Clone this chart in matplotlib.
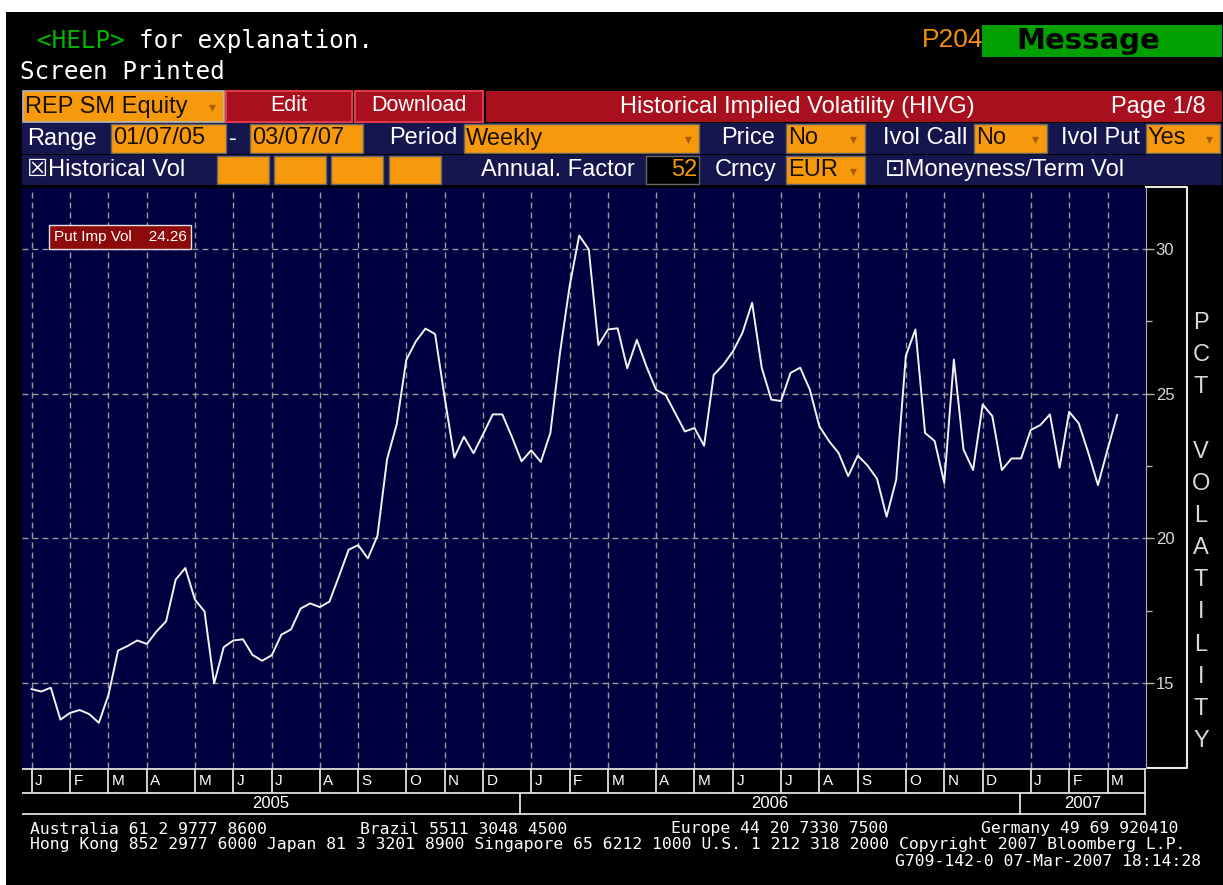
import numpy as np
import pandas as pd
import matplotlib.pyplot as plt
from matplotlib.patches import Rectangle

plt.rcParams['font.family'] = ['Liberation Sans', 'DejaVu Sans']

# weekly put implied volatility, REP SM Equity, 07-Jan-2005 .. 07-Mar-2007
put_imp_vol = [
    14.80, 14.72, 14.85, 13.75, 13.98, 14.08, 13.94, 13.64, 14.60, 16.13,
    16.29, 16.48, 16.36, 16.79, 17.14, 18.58, 18.98, 17.89, 17.48, 15.00,
    16.25, 16.48, 16.52, 15.98, 15.78, 15.97, 16.68, 16.86, 17.58, 17.76,
    17.63, 17.82, 18.70, 19.61, 19.77, 19.31, 20.09, 22.73, 23.93, 26.16,
    26.80, 27.24, 27.05, 24.85, 22.79, 23.51, 22.94, 23.60, 24.28, 24.28,
    23.50, 22.66, 23.04, 22.64, 23.64, 26.40, 28.70, 30.45, 29.97, 26.67,
    27.21, 27.25, 25.87, 26.85, 25.93, 25.13, 24.95, 24.32, 23.69, 23.81,
    23.20, 25.64, 25.99, 26.45, 27.10, 28.13, 25.89, 24.79, 24.74, 25.71,
    25.89, 25.14, 23.87, 23.36, 22.95, 22.15, 22.86, 22.52, 22.06, 20.75,
    22.03, 26.30, 27.21, 23.64, 23.36, 21.92, 26.17, 23.07, 22.36, 24.62,
    24.22, 22.36, 22.76, 22.76, 23.74, 23.91, 24.28, 22.44, 24.37, 23.97,
    22.95, 21.84, 23.07, 24.26,
]
dates = list(pd.date_range("2005-01-07", "2007-03-02", freq="W-FRI")) + [pd.Timestamp("2007-03-07")]
month_letters = "JFMAMJJASOND"
y_ticks = [15, 20, 25, 30]
y_minor = [17.5, 22.5, 27.5]

W, H = 1223, 885
NAVY = "#000040"
ROW = "#16164e"
ORANGE = "#f7990c"
RED = "#a8101e"
GRID = "#9a9a9a"

fig = plt.figure(figsize=(W / 100, H / 100), dpi=100, facecolor="white")
bg = fig.add_axes([0, 0, 1, 1])
bg.set_xlim(0, W)
bg.set_ylim(H, 0)
bg.axis("off")


def box(x0, y0, x1, y1, color, edge=None, lw=1.0, ax=bg):
    ax.add_patch(Rectangle((x0, y0), x1 - x0, y1 - y0, facecolor=color,
                           edgecolor=edge if edge else "none", lw=lw))


def label(x, y, s, color="white", size=17, ha="left", **kw):
    bg.text(x, y, s, color=color, fontsize=size, ha=ha, va="center", **kw)


def arrow(x, y):
    bg.text(x, y + 1, "\u25BE", color="#a85a00", fontsize=10, ha="center", va="center",
            family="DejaVu Sans")


def px_axes(x0, y0, x1, y1, **kw):
    return fig.add_axes([x0 / W, 1 - y1 / H, (x1 - x0) / W, (y1 - y0) / H], **kw)


# screen
box(6, 12, W, H, "black")

mono = "DejaVu Sans Mono"
label(37, 41, "<HELP>", color="#00b400", size=17.5, family=mono)
label(37 + 7 * 14.6, 41, "for explanation.", size=17.5, family=mono)
label(20, 72, "Screen Printed", size=17.5, family=mono)
label(922, 40, "P204", color="#f0900a", size=19)
box(982, 25, 1222, 57, "#00a000")
label(1088, 41, "Message", color="black", size=21, ha="center", family="DejaVu Sans",
      weight="bold")

# row 1
box(23, 91, 224, 122, ORANGE, edge="#b8b8b8", lw=1.2)
label(25, 106.5, "REP SM Equity", color="#1a1000")
arrow(212, 106.5)
box(226, 91, 352, 122, RED, edge="#e03848", lw=1.5)
label(289, 105.5, "Edit", ha="center", size=15.5)
box(355, 91, 483, 122, RED, edge="#e03848", lw=1.5)
label(419, 105.5, "Download", ha="center", size=15.5)
box(486, 91, 1222, 122, RED)
label(797, 106.5, "Historical Implied Volatility (HIVG)", ha="center")
label(1206, 106.5, "Page 1/8", ha="right")

# row 2
box(22, 123, 1222, 154, ROW)
r2 = 138.5
label(27, r2, "Range")
box(111, 124, 226, 153, ORANGE, edge="#666666")
label(113, r2, "01/07/05", color="#1a1000")
label(233, r2, "-", ha="center")
box(250, 124, 363, 153, ORANGE, edge="#666666")
label(252, r2, "03/07/07", color="#1a1000")
label(389, r2, "Period")
box(464, 124, 699, 153, ORANGE, edge="#666666")
label(466, r2, "Weekly", color="#1a1000")
arrow(688, r2)
label(721, r2, "Price")
box(786, 124, 865, 153, ORANGE, edge="#666666")
label(788, r2, "No", color="#1a1000")
arrow(853, r2)
label(883, r2, "Ivol Call")
box(974, 124, 1047, 153, ORANGE, edge="#666666")
label(976, r2, "No", color="#1a1000")
arrow(1035, r2)
label(1061, r2, "Ivol Put")
box(1146, 124, 1220, 153, ORANGE, edge="#666666")
label(1148, r2, "Yes", color="#1a1000")
arrow(1209, r2)

# row 3
box(22, 155, 1222, 185, ROW)
r3 = 170
label(27, r3, "\u2612Historical Vol")
for x0 in [217, 274, 331, 389]:
    box(x0, 156, x0 + 52, 184, ORANGE, edge="#666666")
label(481, r3, "Annual. Factor")
box(646, 156, 699, 184, "black", edge="#666666")
label(697, r3, "52", color=ORANGE, ha="right")
label(715, r3, "Crncy")
box(786, 156, 865, 184, ORANGE, edge="#666666")
label(788, r3, "EUR", color="#1a1000")
arrow(853, r3)
label(885, r3, "\u22A1Moneyness/Term Vol")

# right label column
bg.plot([1146, 1187, 1187, 1146], [187, 187, 768, 768], color="#e8e8e8", lw=1.5)
bg.text(1201, 532, "\n".join("PCT VOLATILITY"), color="#d8d8d8", fontsize=17,
        ha="center", va="center", linespacing=1.6, multialignment="center")

# footer
fs = 11.8
label(30, 829, "Australia 61 2 9777 8600", size=fs, family=mono)
label(360, 829, "Brazil 5511 3048 4500", size=fs, family=mono)
label(671, 829, "Europe 44 20 7330 7500", size=fs, family=mono)
label(981, 829, "Germany 49 69 920410", size=fs, family=mono)
label(30, 845, "Hong Kong 852 2977 6000 Japan 81 3 3201 8900 Singapore 65 6212 1000 "
      "U.S. 1 212 318 2000 Copyright 2007 Bloomberg L.P.", size=fs, family=mono)
label(1201, 861, "G709-142-0 07-Mar-2007 18:14:28", size=fs, family=mono, ha="right")

# month / year boundaries from the dates
idx = np.arange(len(dates))
month_starts = [i for i in idx if i == 0 or dates[i].month != dates[i - 1].month]
year_starts = [i for i in month_starts if dates[i].month == 1]
xmin, xmax = -1, 116

# main chart
ax = px_axes(22, 188, 1146, 768)
ax.set_facecolor(NAVY)
for i in month_starts:
    ax.axvline(i, color=GRID, lw=1, dashes=(4.3, 2.9), zorder=1)
for v in y_ticks:
    ax.axhline(v, color=GRID, lw=1, dashes=(4.3, 2.9), zorder=1)
ax.plot(idx, put_imp_vol, color="#f2f2f2", lw=1.4, zorder=3)
ax.set_xlim(xmin, xmax)
ax.set_ylim(12.08, 32.09)
ax.set_xticks([])
ax.yaxis.tick_right()
ax.set_yticks(y_ticks)
ax.set_yticks(y_minor, minor=True)
ax.set_yticklabels([str(v) for v in y_ticks])
ax.tick_params(axis="y", which="major", length=6, width=1, color="#b0b0b0",
               labelcolor="#d8d8d8", labelsize=12, pad=1)
ax.tick_params(axis="y", which="minor", length=4, width=1, color="#b0b0b0")
for side in ["top", "left", "bottom"]:
    ax.spines[side].set_visible(False)
ax.spines["right"].set_color("#b0b0b0")
ax.text(0.0285, 0.9155, f"Put Imp Vol    {put_imp_vol[-1]:.2f}", transform=ax.transAxes,
        color="white", fontsize=11, ha="left", va="center", zorder=5,
        bbox=dict(boxstyle="square,pad=0.3", facecolor="#8c0a0a", edgecolor="#e0e0e0", lw=1))

# date axis: month row and year row
dax = px_axes(22, 768, 1146, 815)
dax.set_facecolor("black")
dax.set_xlim(xmin, xmax)
dax.set_ylim(0, 47)
dax.set_xticks([])
dax.set_yticks([])
for s in dax.spines.values():
    s.set_visible(False)
line_c = "#e0e0e0"
for yy in [46.3, 22, 0.7]:
    dax.axhline(yy, color=line_c, lw=1.3)
dax.vlines(month_starts, 22, 47, color=line_c, lw=1.3)
dax.vlines([xmax - 0.08], 0, 47, color=line_c, lw=1.3)
for i in month_starts:
    dax.text(i + 0.35, 34, month_letters[dates[i].month - 1], color="white", fontsize=11,
             ha="left", va="center")
dividers = [i - 1.15 for i in year_starts if i > 0]
dax.vlines(dividers, 0, 22, color=line_c, lw=1.3)
edges = [xmin] + dividers + [xmax]
for k, i in enumerate(year_starts):
    dax.text((edges[k] + edges[k + 1]) / 2, 11, str(dates[i].year), color="white",
             fontsize=12, ha="center", va="center")

fig.savefig("out.png", dpi=100, facecolor="white")
